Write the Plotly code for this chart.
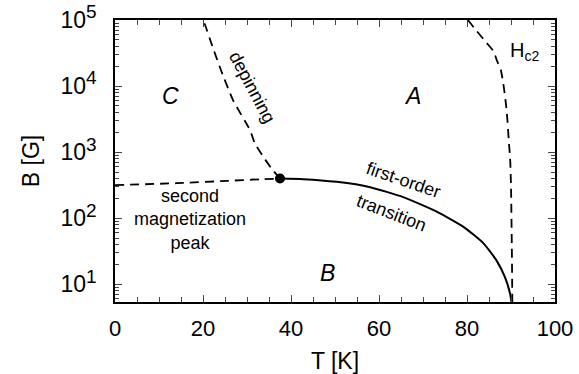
import math
import plotly.graph_objects as go

# ---- data ----
# first-order transition (solid)
fo_T = [37.5, 42.8, 50.4, 58.0, 65.5, 73.1, 79.2, 83.7, 86.7, 88.6, 89.8, 90.1]
fo_B = [398, 390, 355, 295, 209, 126, 74, 42, 23, 12.9, 7.2, 5.4]
# second magnetization peak (dashed)
smp_T = [0, 14.0, 25.4, 33.0, 37.5]
smp_B = [316, 339, 367, 389, 398]
# depinning line (dashed)
dep_T = [37.5, 35.6, 33.7, 31.8, 30.7, 26.8, 24.2, 22.3, 20.5, 20.0]
dep_B = [398, 562, 851, 1350, 2140, 6170, 16600, 37200, 83200, 100000]
# Hc2 line (dashed)
hc2_T = [80.2, 82.0, 84.5, 86.0, 86.9, 87.7, 88.4, 89.0, 89.6, 89.8, 90.0, 90.2, 90.3]
hc2_B = [100000, 70800, 44700, 33900, 23400, 17400, 9330, 4370, 1200, 813, 316, 31.6, 5.4]
# multicritical point
pt_T = [37.5]
pt_B = [398]
# axis ticks
x_ticks = [0, 20, 40, 60, 80, 100]
y_tickvals = [10, 100, 1000, 10000, 100000]
y_exps = ["1", "2", "3", "4", "5"]

FONT = "Liberation Sans, Arial, Helvetica, sans-serif"
dash = "9px,6px"
y_ticktext = ["10<sup><span style='font-size:19px'>%s</span></sup>" % e for e in y_exps]

fig = go.Figure()
fig.add_trace(go.Scatter(x=fo_T, y=fo_B, mode="lines", line=dict(color="black", width=2, shape="spline", smoothing=0.5)))
fig.add_trace(go.Scatter(x=smp_T, y=smp_B, mode="lines", line=dict(color="black", width=1.8, dash=dash, shape="spline", smoothing=0.5)))
fig.add_trace(go.Scatter(x=dep_T, y=dep_B, mode="lines", line=dict(color="black", width=1.8, dash=dash, shape="spline", smoothing=0.5)))
fig.add_trace(go.Scatter(x=hc2_T, y=hc2_B, mode="lines", line=dict(color="black", width=1.8, dash=dash, shape="spline", smoothing=0.5)))
fig.add_trace(go.Scatter(x=pt_T, y=pt_B, mode="markers", marker=dict(color="black", size=10)))
# invisible trace to carry the mirrored (top/right) axes
fig.add_trace(go.Scatter(x=pt_T, y=pt_B, xaxis="x2", yaxis="y2", mode="markers",
                         marker=dict(opacity=0), hoverinfo="skip"))

ann = []
def txt(x, y, t, size=18, angle=0, italic=False):
    ann.append(dict(x=x, y=y, xref="x", yref="y", text=t, showarrow=False, textangle=angle,
                    font=dict(family=FONT, size=size, color="black",
                              style="italic" if italic else "normal")))
txt(12.5, math.log10(7200), "C", size=23, italic=True)
txt(67.5, math.log10(7200), "A", size=23, italic=True)
txt(48.2, math.log10(15), "B", size=23, italic=True)
txt(93.0, math.log10(33000), "H<sub>c2</sub>", size=20)
txt(31.1, math.log10(9600), "depinning", size=18, angle=62)
txt(65.5, math.log10(380), "first-order", size=18, angle=19)
txt(62.8, math.log10(120), "transition", size=18, angle=21)
txt(17.0, math.log10(95), "second<br>magnetization<br>peak", size=18)

fig.update_layout(
    width=579, height=374,
    margin=dict(l=115, r=24, t=20, b=72),
    paper_bgcolor="white", plot_bgcolor="white",
    showlegend=False,
    font=dict(family=FONT, size=20, color="black"),
    annotations=ann,
)
common = dict(showline=True, linecolor="black", linewidth=1.5, showgrid=False, zeroline=False, automargin=False)
fig.update_layout(
    xaxis=dict(range=[0, 100], tickvals=x_ticks, ticks="inside", ticklen=7, tickwidth=1.2,
               minor=dict(dtick=5, tick0=0, ticks="inside", ticklen=5, tickwidth=1, showgrid=False),
               title=dict(text="T [K]", standoff=14, font=dict(size=23)),
               tickfont=dict(size=22), ticklabelstandoff=6, **common),
    yaxis=dict(type="log", range=[0.732, 5], tickvals=y_tickvals, ticktext=y_ticktext,
               ticks="inside", ticklen=7, tickwidth=1.2,
               minor=dict(dtick="D1", ticks="inside", ticklen=4, tickwidth=1, showgrid=False),
               title=dict(text="B [G]", standoff=14, font=dict(size=23)),
               tickfont=dict(size=23), ticklabelstandoff=12, **common),
    xaxis2=dict(range=[0, 100], overlaying="x", side="top", tickvals=x_ticks, ticks="inside",
                ticklen=7, tickwidth=1.2, showticklabels=False,
                minor=dict(dtick=5, tick0=0, ticks="inside", ticklen=5, tickwidth=1, showgrid=False),
                **common),
    yaxis2=dict(type="log", range=[0.732, 5], overlaying="y", side="right", tickvals=y_tickvals,
                ticks="inside", ticklen=7, tickwidth=1.2, showticklabels=False,
                minor=dict(dtick="D1", ticks="inside", ticklen=4, tickwidth=1, showgrid=False),
                **common),
)
fig.write_html("out.html", config={"displayModeBar": False},
               post_script="document.body.style.margin='0px';")
